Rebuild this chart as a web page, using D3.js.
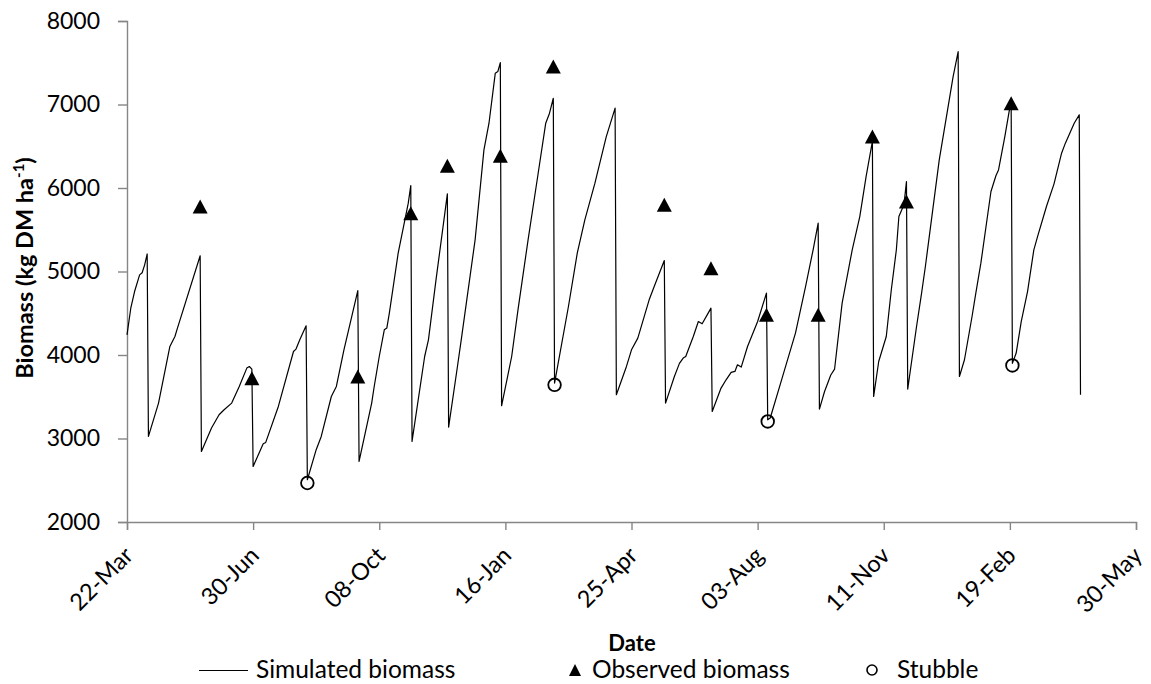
<!DOCTYPE html>
<html>
<head>
<meta charset="utf-8">
<script src="https://cdn.jsdelivr.net/npm/d3@7"></script>
<style>
  body { margin: 0; background: #fff; }
  svg { display: block; }
  text { font-family: Lato, "Open Sans", sans-serif; fill: #000; }
</style>
</head>
<body>
<svg id="chart" width="1151" height="684"></svg>
<script>
// Simulated biomass, one point per day (days counted from 22-Mar)
const simDay = [
  0, 3, 6, 10, 12, 14, 16,
  17, 25, 34, 38, 40, 58,
  59, 67, 73, 77, 83, 89, 95, 97, 99,
  100, 108, 110, 120, 132, 134, 137, 142,
  143, 150, 154, 162, 166, 172, 183,
  184, 194, 196, 200, 204, 206, 208, 215, 223, 225,
  226, 236, 239, 245, 252, 254,
  255, 262, 265, 276, 283, 287, 292, 294, 296,
  297, 305, 310, 318, 326, 332, 335, 338,
  339, 350, 357, 363, 371, 380, 387,
  388, 396, 400, 405, 414, 418, 426,
  427, 434, 438, 441, 443, 449, 453, 456, 460, 463,
  464, 471, 475, 479, 482, 484, 487, 492, 500, 507,
  508, 510, 519, 530, 538, 544, 548,
  549, 553, 558, 561, 567, 575, 581, 586, 591,
  592, 596, 602, 606, 610, 612, 616, 618,
  619, 626, 630, 633, 644, 655, 659,
  660, 664, 670, 673, 677, 685, 689, 691, 696, 701,
  702, 705, 709, 714, 719, 722, 729, 735, 741, 744, 751, 755,
  756
];
const simBiomass = [
  4242, 4560, 4760, 4960, 4985, 5080, 5210,
  3025, 3424, 4102, 4222, 4322, 5188,
  2845, 3125, 3284, 3344, 3424, 3623, 3843, 3862, 3830,
  2665, 2937, 2953, 3384, 4042, 4071, 4182, 4350,
  2506, 2866, 3025, 3503, 3623, 4062, 4772,
  2725, 3424, 3623, 3982, 4302, 4322, 4502, 5220, 5818, 6029,
  2965, 3982, 4182, 4900, 5699, 5930,
  3137, 3862, 4182, 5379, 6456, 6776, 7375, 7394, 7502,
  3392, 3982, 4541, 5379, 6177, 6776, 6896, 7075,
  3664, 4581, 5220, 5619, 6058, 6616, 6956,
  3524, 3863, 4062, 4202, 4661, 4820, 5131,
  3424, 3743, 3900, 3963, 3982, 4222, 4401, 4374, 4481, 4561,
  3324, 3604, 3703, 3791, 3803, 3883, 3855, 4102, 4401, 4741,
  3224, 3245, 3703, 4262, 4820, 5260, 5579,
  3352, 3560, 3760, 3830, 4621, 5260, 5658, 6137, 6560,
  3504, 3922, 4222, 4781, 5260, 5658, 5800, 6077,
  3592, 4341, 4741, 5060, 6337, 7334, 7633,
  3743, 3943, 4461, 4741, 5100, 5958, 6150, 6217, 6616, 7055,
  3900, 4023, 4400, 4760, 5260, 5420, 5778, 6050, 6417, 6537, 6776, 6876,
  3524
];

// Observed (pre-grazing) biomass
const obsDay = [58, 99, 183, 225, 254, 296, 338, 426, 463, 507, 548, 591, 618, 701];
const obsBiomass = [5778, 3723, 3743, 5699, 6265, 6385, 7454, 5798, 5040, 4481, 4481, 6616, 5838, 7015];

// Residual stubble after grazing
const stubbleDay = [143, 339, 508, 702];
const stubbleBiomass = [2467, 3643, 3204, 3875];

// Axis ticks
const xTickDay = [0, 100, 200, 300, 400, 500, 600, 700, 800];
const xTickLabel = ["22-Mar", "30-Jun", "08-Oct", "16-Jan", "25-Apr", "03-Aug", "11-Nov", "19-Feb", "30-May"];
const yTickValue = [2000, 3000, 4000, 5000, 6000, 7000, 8000];

const svg = d3.select("#chart");
const axisColor = "#868686";

const x = d3.scaleLinear().domain([0, 800]).range([127, 1136]);
const y = d3.scaleLinear().domain([2000, 8000]).range([522, 21]);

// Y axis
const gy = svg.append("g")
  .attr("transform", "translate(127,0)")
  .call(d3.axisLeft(y).tickValues(yTickValue).tickSize(9).tickPadding(18).tickFormat(d3.format("d")));
gy.selectAll(".domain, .tick line").attr("stroke", axisColor).attr("stroke-width", 1.4);
gy.selectAll(".tick text").attr("font-size", 23).attr("font-family", "Lato, sans-serif").attr("fill", "#000");

// X axis
const gx = svg.append("g")
  .attr("transform", "translate(0,522)")
  .call(d3.axisBottom(x).tickValues(xTickDay).tickSize(8).tickFormat((d, i) => xTickLabel[i]));
gx.selectAll(".domain, .tick line").attr("stroke", axisColor).attr("stroke-width", 1.4);
gx.selectAll(".tick text")
  .attr("font-size", 23.5)
  .attr("font-family", "Lato, sans-serif")
  .attr("fill", "#000")
  .attr("text-anchor", "end")
  .attr("x", 0).attr("y", 0).attr("dy", 0)
  .attr("transform", "translate(7,35) rotate(-45)");

// Axis titles
svg.append("text")
  .attr("transform", "translate(33,268) rotate(-90)")
  .attr("text-anchor", "middle")
  .attr("font-size", 23.5)
  .attr("font-weight", "bold")
  .call(t => {
    t.append("tspan").text("Biomass (kg DM ha");
    t.append("tspan").attr("dy", -9).attr("font-size", 15).text("-1");
    t.append("tspan").attr("dy", 9).text(")");
  });

svg.append("text")
  .attr("x", 632).attr("y", 651)
  .attr("text-anchor", "middle")
  .attr("font-size", 22)
  .attr("font-weight", "bold")
  .text("Date");

// Simulated biomass line
const idx = d3.range(simDay.length);
svg.append("path")
  .attr("fill", "none")
  .attr("stroke", "#000")
  .attr("stroke-width", 1.2)
  .attr("stroke-linejoin", "round")
  .attr("d", d3.line().x(i => x(simDay[i])).y(i => y(simBiomass[i]))(idx));

// Markers
const triPath = (w, h) => `M0,${-h / 2}L${w / 2},${h / 2}L${-w / 2},${h / 2}Z`;

svg.append("g").selectAll("path")
  .data(d3.range(obsDay.length))
  .join("path")
  .attr("d", triPath(15, 14))
  .attr("fill", "#000")
  .attr("transform", i => `translate(${x(obsDay[i])},${y(obsBiomass[i])})`);

svg.append("g").selectAll("circle")
  .data(d3.range(stubbleDay.length))
  .join("circle")
  .attr("cx", i => x(stubbleDay[i]))
  .attr("cy", i => y(stubbleBiomass[i]))
  .attr("r", 6.3)
  .attr("fill", "none")
  .attr("stroke", "#000")
  .attr("stroke-width", 1.8);

// Legend
const legY = 670;
const leg = svg.append("g");
leg.append("line")
  .attr("x1", 199).attr("x2", 248).attr("y1", legY + 0.5).attr("y2", legY + 0.5)
  .attr("stroke", "#000").attr("stroke-width", 1.2);
leg.append("text").attr("x", 256).attr("y", legY + 8).attr("font-size", 24.5).text("Simulated biomass");

leg.append("path").attr("d", triPath(12, 12)).attr("fill", "#000")
  .attr("transform", `translate(575,${legY})`);
leg.append("text").attr("x", 592).attr("y", legY + 8).attr("font-size", 24.5).text("Observed biomass");

leg.append("circle").attr("cx", 872).attr("cy", legY).attr("r", 5)
  .attr("fill", "none").attr("stroke", "#000").attr("stroke-width", 1.6);
leg.append("text").attr("x", 897).attr("y", legY + 8).attr("font-size", 24.5).text("Stubble");
</script>
</body>
</html>
